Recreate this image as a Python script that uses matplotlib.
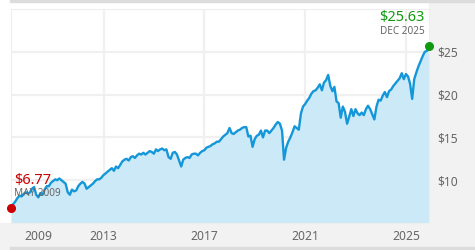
import pandas as pd
import numpy as np
import matplotlib
matplotlib.use('Agg')
import matplotlib.pyplot as plt
from matplotlib.patches import Rectangle

# monthly closing prices, May 2009 - Dec 2025
prices = [
    6.77, 7.2, 7.5, 7.9, 8.2, 8.1, 8.4, 8.6,                              # 2009
    8.4, 8.6, 9.0, 9.2, 8.3, 8.0, 8.5, 8.3, 8.9, 9.3, 9.3, 9.7,           # 2010
    9.9, 10.1, 10.0, 10.2, 10.0, 9.8, 9.6, 8.6, 8.3, 8.9, 8.7, 8.8,       # 2011
    9.3, 9.6, 9.8, 9.6, 9.0, 9.2, 9.4, 9.6, 9.9, 10.1, 10.1, 10.3,        # 2012
    10.6, 10.8, 11.0, 11.2, 11.4, 11.1, 11.6, 11.4, 11.8, 12.2, 12.4, 12.5,  # 2013
    12.3, 12.7, 12.8, 12.6, 12.9, 13.1, 13.0, 13.2, 13.0, 13.2, 13.4, 13.3,  # 2014
    13.1, 13.6, 13.4, 13.6, 13.7, 13.5, 13.6, 12.7, 12.5, 13.2, 13.3, 13.0,  # 2015
    12.3, 11.6, 12.4, 12.6, 12.7, 12.6, 13.0, 13.1, 13.1, 12.9, 13.2, 13.4,  # 2016
    13.5, 13.8, 13.9, 14.0, 14.2, 14.3, 14.5, 14.5, 14.8, 15.1, 15.3, 15.5,  # 2017
    16.1, 15.5, 15.4, 15.6, 15.8, 15.9, 16.1, 16.2, 16.2, 15.1, 15.2, 13.9,  # 2018
    14.8, 15.2, 15.3, 15.8, 15.0, 15.8, 15.8, 15.5, 15.8, 16.1, 16.5, 16.8,  # 2019
    16.6, 15.8, 12.4, 13.8, 14.5, 15.0, 15.6, 16.3, 16.1, 15.9, 17.8, 18.6,  # 2020
    18.9, 19.3, 19.6, 20.1, 20.4, 20.5, 20.8, 21.2, 20.5, 21.4, 21.7, 22.3,  # 2021
    21.0, 20.4, 20.9, 19.2, 19.0, 17.3, 18.6, 18.0, 16.6, 17.4, 18.3, 17.5,  # 2022
    18.3, 17.8, 17.6, 17.9, 17.6, 18.3, 18.7, 18.3, 17.7, 17.1, 18.6, 19.4,  # 2023
    19.3, 19.9, 20.3, 19.7, 20.4, 20.6, 21.0, 21.3, 21.6, 21.9, 22.5, 21.8,  # 2024
    22.4, 22.1, 21.3, 19.5, 21.8, 22.6, 23.3, 23.9, 24.5, 25.0, 25.1, 25.63,  # 2025
]
dates = pd.date_range('2009-05-01', periods=len(prices), freq='MS')

year_ticks = [2013, 2017, 2021, 2025]
price_ticks = [10, 15, 20, 25]

W, H = 475, 250
fig = plt.figure(figsize=(W / 100, H / 100), dpi=100)
fig.patch.set_facecolor('white')

def px_rect(x0, y0, x1, y1, color):
    fig.patches.append(Rectangle((x0 / W, 1 - y1 / H), (x1 - x0) / W, (y1 - y0) / H,
                                 transform=fig.transFigure, color=color, zorder=-5))

px_rect(429, 0, W, H, '#f2f2f2')
px_rect(0, 223, W, H, '#f2f2f2')
px_rect(10, 0, W, 2, '#dcdcdc')
px_rect(10, 247, W, H, '#dcdcdc')

ax = fig.add_axes([11 / W, 1 - 223 / H, (429 - 11) / W, (223 - 9) / H])
ax.set_facecolor('white')

line_c = '#1497d9'
ax.fill_between(dates, prices, 0, color='#cce9f7', lw=0, zorder=2)
ax.plot(dates, prices, color=line_c, lw=1.7, zorder=3)

ax.set_xlim(dates[0], dates[-1])
ax.set_ylim(5, 30)

ax.set_xticks([pd.Timestamp(f'{y}-01-01') for y in year_ticks])
ax.set_xticklabels([str(y) for y in year_ticks])
ax.set_yticks(price_ticks)
ax.set_yticklabels([f'${v}' for v in price_ticks])
ax.yaxis.tick_right()
ax.tick_params(length=0, labelsize=8.7, labelcolor='#666666', pad=6)
ax.tick_params(axis='x', pad=5)
for lab in ax.get_xticklabels() + ax.get_yticklabels():
    lab.set_family('Noto Sans')
ax.grid(True, color='#f0f0f0', lw=1.6, zorder=1)
ax.set_axisbelow(True)
for s in ax.spines.values():
    s.set_color('#eeeeee')
    s.set_linewidth(0.8)

# 2009 label sits inside the plot, no gridline
fig.text(38 / W, 1 - 236 / H, '2009', ha='center', va='center', fontsize=8.7,
         color='#666666', family='Noto Sans')

# start / end markers
ax.plot(dates[0], prices[0], 'o', color='#cc0000', ms=5.5, clip_on=False, zorder=5)
ax.plot(dates[-1], prices[-1], 'o', color='#119911', ms=5.5, clip_on=False, zorder=5)

fig.text(14 / W, 1 - 184 / H, f'${prices[0]:.2f}', fontsize=10.5, color='#cc0000',
         family='Noto Sans', va='baseline', zorder=6)
fig.text(14 / W, 1 - 196 / H, 'MAY 2009', fontsize=7.2, color='#666666',
         family='Noto Sans', va='baseline', zorder=6)
fig.text(425 / W, 1 - 21 / H, f'${prices[-1]:.2f}', fontsize=10.5, color='#119911',
         family='Noto Sans', va='baseline', ha='right')
fig.text(425 / W, 1 - 34 / H, 'DEC 2025', fontsize=7.2, color='#666666',
         family='Noto Sans', va='baseline', ha='right')

fig.savefig('out.png', dpi=100)
